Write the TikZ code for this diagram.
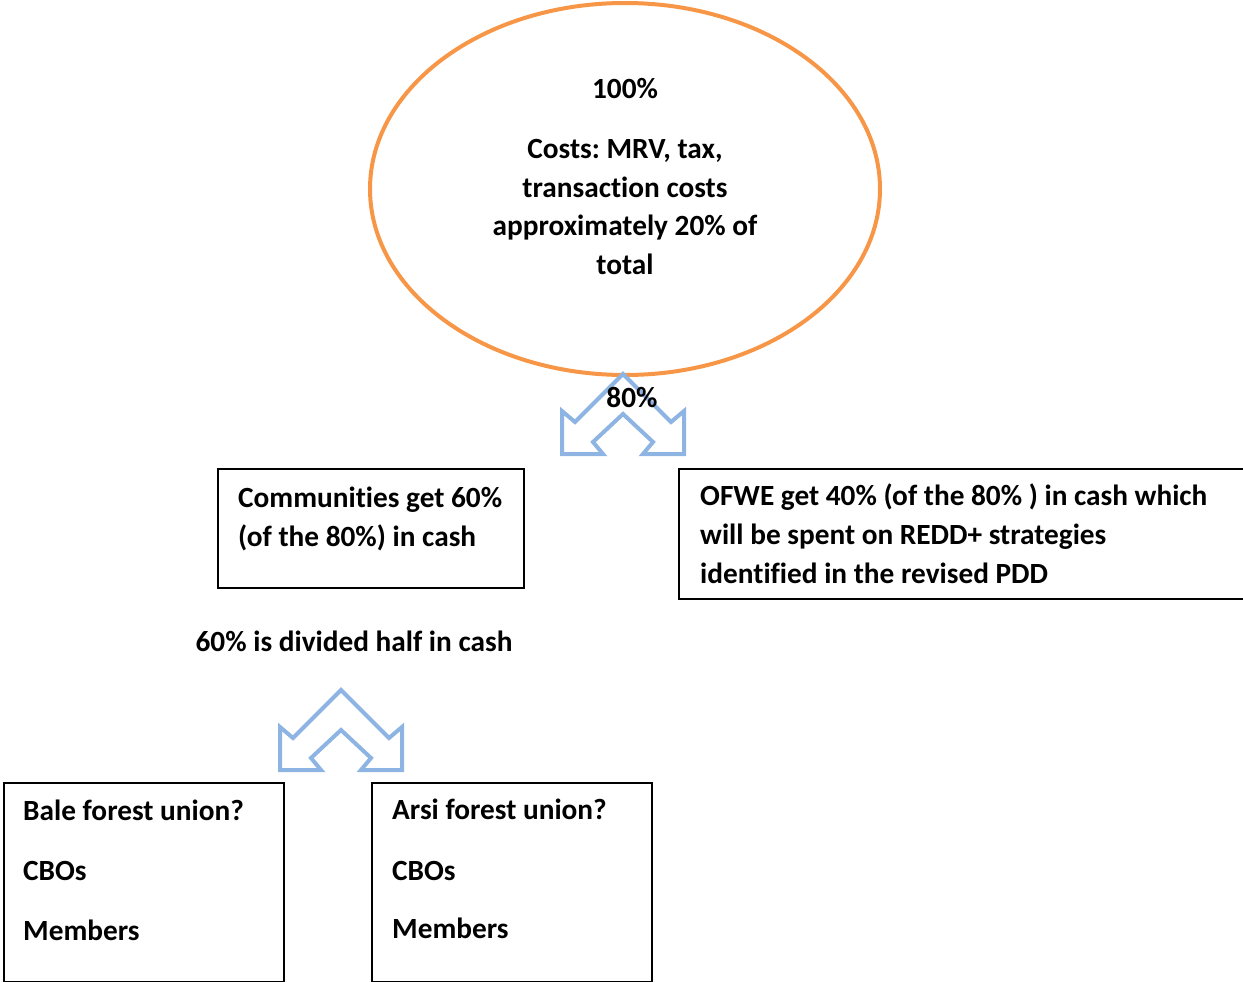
\documentclass[tikz,border=0pt]{standalone}
\usepackage{fontspec}
\setmainfont[Ligatures=NoCommon]{Carlito}
\usetikzlibrary{shapes.geometric}
\definecolor{orangeline}{HTML}{F79646}
\definecolor{blueline}{HTML}{8DB4E2}
\frenchspacing
\tikzset{
  txt/.style={inner sep=0pt, font=\fontsize{29.3}{39}\selectfont\bfseries},
  ltxt/.style={txt, anchor=base west},
  ctxt/.style={txt, anchor=base},
  box/.style={draw=black, line width=2pt, anchor=north west, inner sep=0pt},
  splitarrow/.pic={
    \draw[blueline, line width=4pt, fill=white, line join=miter]
      (0,0) -- (-48,48) -- (-61,37) -- (-61,80) -- (-20,80) -- (-30,68)
      -- (0,40) -- (30,68) -- (20,80) -- (61,80) -- (61,37) -- (48,48) -- cycle;
  }
}
\begin{document}
\begin{tikzpicture}[x=1pt, y=-1pt]
\useasboundingbox (0,0) rectangle (1243,982);
% ellipse
\node[ellipse, draw=orangeline, line width=4pt, minimum width=510pt, minimum height=372pt, inner sep=0pt] (oval) at (625,189) {};
\node[ctxt] (t100) at (625,99) {100\%};
\node[ctxt] (tc1) at (625,158) {Costs: MRV, tax,};
\node[ctxt] (tc2) at (625,197) {transaction costs};
\node[ctxt] (tc3) at (625,235) {approximately 20\% of};
\node[ctxt] (tc4) at (625,274) {total};
% top split arrow
\pic (arrA) at (623,374) {splitarrow};
\node[ctxt] (t80) at (632,407) {80\%};
% communities box
\node[box, minimum width=306pt, minimum height=119pt] (comm) at (217,468) {};
\node[ltxt] (comm1) at (238,507) {Communities get 60\%};
\node[ltxt] (comm2) at (238,546) {(of the 80\%) in cash};
% OFWE box
\node[box, minimum width=600pt, minimum height=130pt] (ofwe) at (678,468) {};
\node[ltxt] (ofwe1) at (700,505) {OFWE get 40\% (of the 80\% ) in cash which};
\node[ltxt] (ofwe2) at (700,544) {will be spent on REDD+ strategies};
\node[ltxt] (ofwe3) at (700,583) {identified in the revised PDD};
% middle label
\node[ctxt] (half) at (354,651) {60\% is divided half in cash};
% lower split arrow
\pic (arrB) at (341,690) {splitarrow};
% Bale box
\node[box, minimum width=280pt, minimum height=199pt] (bale) at (3,782) {};
\node[ltxt] (bale1) at (23,820) {Bale forest union?};
\node[ltxt] (bale2) at (23,880) {CBOs};
\node[ltxt] (bale3) at (23,940) {Members};
% Arsi box
\node[box, minimum width=280pt, minimum height=199pt] (arsi) at (371,782) {};
\node[ltxt] (arsi1) at (392,819) {Arsi forest union?};
\node[ltxt] (arsi2) at (392,880) {CBOs};
\node[ltxt] (arsi3) at (392,938) {Members};
\end{tikzpicture}
\end{document}
